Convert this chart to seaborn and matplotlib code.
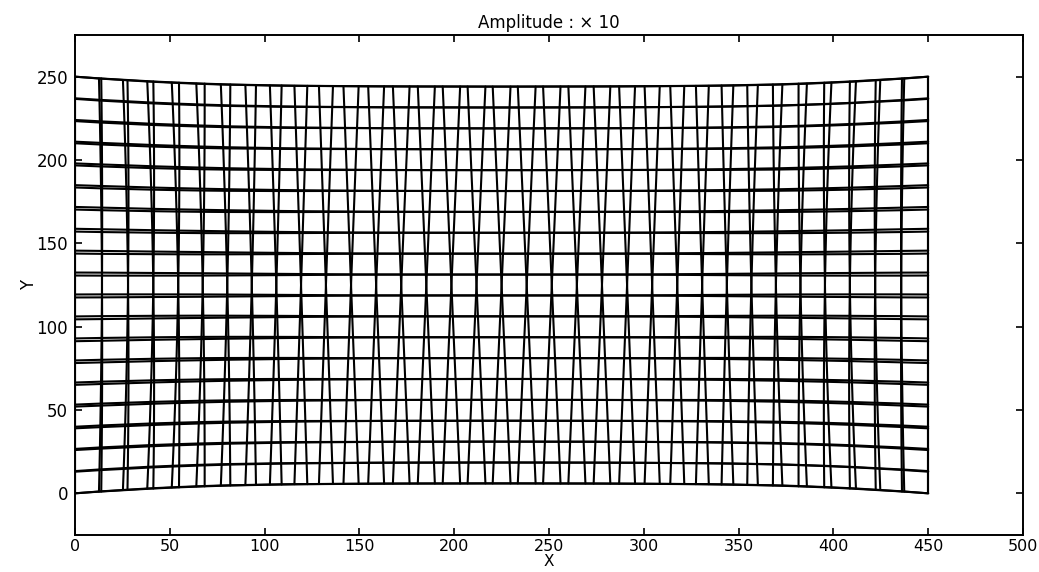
import numpy as np
import pandas as pd
import matplotlib
matplotlib.use("Agg")
import matplotlib.pyplot as plt
import seaborn as sns

# Finite-element mesh of the 450 x 250 block: 34 x 19 square elements
mesh_width = 450.0
mesh_height = 250.0
n_el_x = 34
n_el_y = 19

# Nodal mode-shape components per node column (left half up to the mid column),
# already multiplied by the display amplitude factor of 10
tilt_half = [0.0, 0.6, 1.2, 1.6, 1.9, 2.2, 2.5, 2.8, 3.1, 3.4, 3.7, 4.0,
             4.2, 4.4, 4.5, 4.6, 4.7, 4.7]          # rotation of the column (u at top edge)
squeeze_half = [0.0, 1.1, 2.0, 2.9, 3.6, 4.2, 4.7, 5.0, 5.3, 5.5, 5.6, 5.7,
                5.8, 5.85, 5.9, 5.9, 5.95, 5.95]   # through-thickness contraction (v at top edge)
bow_half = [0.0, 1.0, 1.5, 1.6, 1.5, 1.2, 0.9, 0.6, 0.3, 0.1, 0.0, 0.0,
            0.0, 0.0, 0.0, 0.0, 0.0, 0.0]          # mid-height bulge of the column
shear_half = [0.9, 0.9, 0.85, 0.8, 0.75, 0.7, 0.6, 0.5, 0.4, 0.3, 0.2, 0.1,
              0.0, 0.0, 0.0, 0.0, 0.0, 0.0]        # mid-height vertical offset

tilt = np.array(tilt_half + tilt_half[-2::-1])
squeeze = np.array(squeeze_half + squeeze_half[-2::-1])
bow = np.array(bow_half + [-v for v in bow_half[-2::-1]])
shear = np.array(shear_half + shear_half[-2::-1])

title_text = "Amplitude : \u00d7 10"
x_ticks = [0, 50, 100, 150, 200, 250, 300, 350, 400, 450, 500]
y_ticks = [0, 50, 100, 150, 200, 250]

# Deformed node coordinates for both signs of the mode (+ / - amplitude)
x0 = np.linspace(0.0, mesh_width, n_el_x + 1)
y0 = np.linspace(0.0, mesh_height, n_el_y + 1)
eta = (y0 - mesh_height / 2) / (mesh_height / 2)

records = []
line_id = 0
for sign in (1.0, -1.0):
    X = x0[:, None] + sign * tilt[:, None] * eta[None, :] + bow[:, None] * (1 - eta[None, :] ** 2)
    Y = y0[None, :] - squeeze[:, None] * eta[None, :] + sign * shear[:, None] * (1 - eta[None, :] ** 2)
    # node columns
    for i in range(X.shape[0]):
        for j in range(X.shape[1]):
            records.append((line_id, j, X[i, j], Y[i, j]))
        line_id += 1
    # node rows
    for j in range(X.shape[1]):
        for i in range(X.shape[0]):
            records.append((line_id, i, X[i, j], Y[i, j]))
        line_id += 1

mesh = pd.DataFrame(records, columns=["line", "order", "x", "y"])

sns.set_theme(style="ticks")
plt.rcParams["font.family"] = ["DejaVu Sans"]
plt.rcParams["text.color"] = "black"
plt.rcParams["axes.labelcolor"] = "black"

fig = plt.figure(figsize=(10.39, 5.72), dpi=100)
ax = fig.add_axes([0.0722, 0.0647, 0.9124, 0.8741])

sns.lineplot(data=mesh, x="x", y="y", units="line", estimator=None, sort=False,
             color="black", linewidth=1.5, ax=ax, legend=False)

ax.set_xlim(0, 500)
ax.set_ylim(-25, 275)
ax.set_xticks(x_ticks)
ax.set_yticks(y_ticks)
ax.tick_params(direction="in", length=5, width=1.2, top=True, right=True,
               colors="black")
ax.tick_params(axis="x", labelsize=11.5, pad=3)
ax.tick_params(axis="y", labelsize=12, pad=5)
for sp in ax.spines.values():
    sp.set_visible(True)
    sp.set_linewidth(1.4)
    sp.set_color("black")

ax.set_xlabel("X", fontsize=11, labelpad=0)
ax.set_ylabel("Y", fontsize=12, labelpad=-1)
ax.set_title(title_text, fontsize=12, pad=5, color="black")

fig.savefig("out.png", dpi=100, facecolor="white")
